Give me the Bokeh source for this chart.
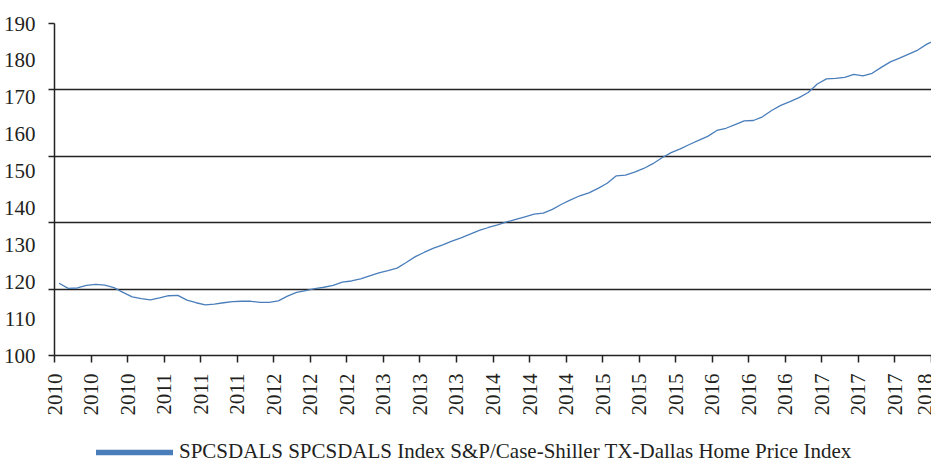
import math
import numpy as np
from bokeh.plotting import figure
from bokeh.layouts import column
from bokeh.models import FixedTicker, Range1d, Legend, LegendItem
from bokeh.embed import file_html
from bokeh.resources import INLINE

# Monthly index values, Jan 2010 .. Jan 2018
values = [
    119.6, 118.2, 118.3, 119.0, 119.3, 119.1, 118.4, 117.1, 115.9, 115.4, 115.1, 115.6,
    116.2, 116.3, 115.0, 114.3, 113.7, 113.9, 114.3, 114.6, 114.7, 114.7, 114.4, 114.4,
    114.8, 116.1, 117.1, 117.6, 118.1, 118.5, 119.0, 119.9, 120.2, 120.8, 121.6, 122.4,
    123.0, 123.7, 125.2, 126.8, 128.0, 129.1, 130.0, 131.0, 131.9, 132.9, 133.9, 134.7,
    135.4, 136.2, 136.9, 137.6, 138.3, 138.6, 139.6, 141.0, 142.2, 143.3, 144.1, 145.3,
    146.7, 148.7, 148.9, 149.7, 150.7, 152.0, 153.6, 155.0, 156.0, 157.2, 158.3, 159.4,
    161.0, 161.6, 162.6, 163.6, 163.7, 164.7, 166.4, 167.8, 168.8, 169.9, 171.3, 173.6,
    175.0, 175.1, 175.4, 176.2, 175.8, 176.5, 178.1, 179.6, 180.6, 181.7, 182.8, 184.4,
    185.6,
]
months = list(range(len(values)))

# category-axis tick labels: one every 4 months
x_tick_labels = ["2010", "2010", "2010", "2011", "2011", "2011", "2012", "2012", "2012",
                 "2013", "2013", "2013", "2014", "2014", "2014", "2015", "2015", "2015",
                 "2016", "2016", "2016", "2017", "2017", "2017", "2018"]
y_labels = [100, 110, 120, 130, 140, 150, 160, 170, 180, 190]
y_grid = [100, 118, 136, 154, 172, 190]

series_name = "SPCSDALS SPCSDALS Index S&P/Case-Shiller TX-Dallas Home Price Index"

FONT = "Liberation Serif"
TXT = "#231f20"
BLUE = "#4a7ebb"

x_ticks = [4 * i - 0.5 for i in range(len(x_tick_labels))]

p = figure(width=931, height=424, output_backend="svg", toolbar_location=None,
           x_range=Range1d(-0.5, 95.5), y_range=Range1d(100, 190),
           min_border_left=45, min_border_right=0, min_border_top=23,
           min_border_bottom=69)
p.outline_line_color = None
p.background_fill_color = "white"
p.border_fill_color = "white"

p.line(months, values, line_color=BLUE, line_width=1.3)

# x axis
p.xaxis.ticker = FixedTicker(ticks=x_ticks)
p.xaxis.major_label_overrides = {t: lab for t, lab in zip(x_ticks, x_tick_labels)}
p.xaxis.major_label_orientation = math.pi / 2
p.xaxis.major_label_text_font = FONT
p.xaxis.major_label_text_font_size = "21px"
p.xaxis.major_label_text_color = TXT
p.xaxis.major_label_standoff = 11
p.xaxis.major_tick_out = 7
p.xaxis.major_tick_in = 0
p.xaxis.minor_tick_out = 0
p.xaxis.axis_line_color = "#222222"
p.xaxis.axis_line_width = 1.5
p.xaxis.major_tick_line_color = "#222222"
p.xaxis.major_tick_line_width = 1.5

# y axis: labels every 10, tick marks only at the grid lines
p.yaxis.ticker = FixedTicker(ticks=y_labels, minor_ticks=y_grid)
p.yaxis.major_label_text_font = FONT
p.yaxis.major_label_text_font_size = "21px"
p.yaxis.major_label_text_color = TXT
p.yaxis.major_label_standoff = 13
p.yaxis.major_tick_out = 0
p.yaxis.major_tick_in = 0
p.yaxis.minor_tick_out = 6
p.yaxis.minor_tick_in = 0
p.yaxis.minor_tick_line_color = "#222222"
p.yaxis.minor_tick_line_width = 1.5
p.yaxis.axis_line_color = "#222222"
p.yaxis.axis_line_width = 1.5

p.xgrid.visible = False
p.ygrid.ticker = FixedTicker(ticks=y_grid)
p.ygrid.grid_line_color = "#222222"
p.ygrid.grid_line_width = 1.5

# legend strip below the chart
lg = figure(width=931, height=40, output_backend="svg", toolbar_location=None,
            x_range=Range1d(0, 1), y_range=Range1d(0, 1),
            x_axis_location=None, y_axis_location=None, min_border=0)
lg.outline_line_color = None
lg.grid.visible = False
# legend swatch renderer (a single undrawn point: the thick line only shows in the legend)
swatch = lg.line(x=np.array([0.0]), y=np.array([np.nan]), line_color=BLUE,
                 line_width=5.5, line_cap="round")
legend = Legend(items=[LegendItem(label=series_name, renderers=[swatch])],
                location=(42, 0), padding=0, margin=0,
                border_line_color=None, background_fill_alpha=0,
                glyph_width=77, glyph_height=16, label_standoff=6,
                label_height=16,
                label_text_font=FONT, label_text_font_size="21px",
                label_text_color=TXT)
lg.add_layout(legend, "center")

layout = column(p, lg, spacing=0)
open("out.html", "w").write(file_html(layout, INLINE))
